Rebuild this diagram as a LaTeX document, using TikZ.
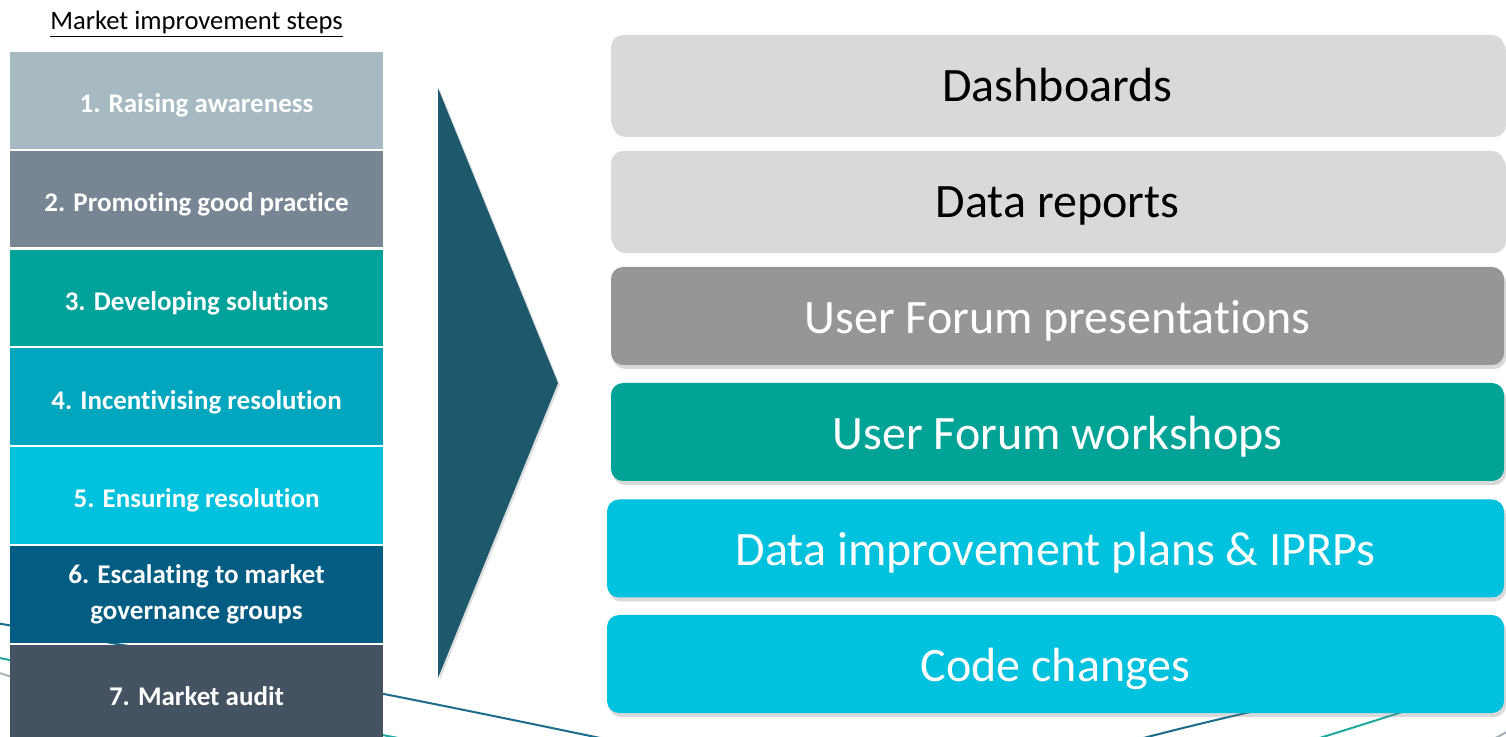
\documentclass[tikz,border=0pt]{standalone}
\usepackage{fontspec}
\setmainfont{Carlito}[Ligatures=NoCommon]
\usepackage{xcolor}
\definecolor{stepone}{HTML}{A7BAC2}
\definecolor{steptwo}{HTML}{788593}
\definecolor{stepthree}{HTML}{00A29A}
\definecolor{stepfour}{HTML}{00A5BE}
\definecolor{stepfive}{HTML}{00C1DE}
\definecolor{stepsix}{HTML}{035C82}
\definecolor{stepseven}{HTML}{445262}
\definecolor{lightbox}{HTML}{D9D9D9}
\definecolor{midbox}{HTML}{969696}
\definecolor{tealbox}{HTML}{00A396}
\definecolor{cyanbox}{HTML}{00C1DE}
\definecolor{arrowdark}{HTML}{1C596C}
\definecolor{swoopdark}{HTML}{1A6C8A}
\definecolor{swoopteal}{HTML}{1FA8A0}
\definecolor{swoopgrey}{HTML}{A9B1B8}
\usetikzlibrary{shadows}

\begin{document}
\begin{tikzpicture}[x=0.5pt, y=-0.5pt,
    stepbox/.style={rectangle, fill=#1, text=white, minimum width=186.5pt, minimum height=48.25pt,
        align=center, font=\fontsize{13.5}{18}\selectfont\bfseries, inner sep=0pt},
    oneline/.style={text height=12.4pt, text depth=0pt},
    toolbox/.style={rectangle, rounded corners=6pt, fill=#1, minimum width=446.5pt, minimum height=49pt,
        font=\fontsize{24}{28}\selectfont, inner sep=0pt, text height=17.5pt, text depth=0pt,
        drop shadow={shadow xshift=1pt, shadow yshift=-2pt, opacity=0.3}},
    swoop/.style={line width=1pt}]

    \clip (0,0) rectangle (1506,737);
    \useasboundingbox (0,0) rectangle (1506,737);

    % background lines
    \draw[swoop, color=swoopdark] (-10,622) .. controls (500,708) and (740,775) .. (860,785)
        .. controls (1000,790) and (1080,746) .. (1320,697);
    \draw[swoop, color=swoopteal] (-10,656) .. controls (500,760) and (700,800) .. (900,810)
        .. controls (1100,810) and (1220,770) .. (1440,700);
    \draw[swoop, color=swoopgrey] (-10,670) .. controls (300,770) and (800,850) .. (1000,850)
        .. controls (1250,850) and (1400,790) .. (1520,725);

    \node[font=\fontsize{13.3}{16}\selectfont] (title) at (196.5,24) {\underline{Market improvement steps}};

    \node[stepbox=stepone, oneline] (s1) at (196.5,100.3) {1. Raising awareness};
    \node[stepbox=steptwo, oneline] (s2) at (196.5,199.1) {2. Promoting good practice};
    \node[stepbox=stepthree, oneline] (s3) at (196.5,297.9) {3. Developing solutions};
    \node[stepbox=stepfour, oneline] (s4) at (196.5,396.7) {4. Incentivising resolution};
    \node[stepbox=stepfive, oneline] (s5) at (196.5,495.5) {5. Ensuring resolution};
    \node[stepbox=stepsix] (s6) at (196.5,594.3) {6. Escalating to market\\governance groups};
    \node[stepbox=stepseven, oneline] (s7) at (196.5,693.1) {7. Market audit};

    \fill[arrowdark, drop shadow={shadow xshift=1pt, shadow yshift=-1pt, opacity=0.25}] (438,88) -- (558,383) -- (438,678) -- cycle;

    \node[toolbox=lightbox] (dash) at (1057.5,84) {Dashboards};
    \node[toolbox=lightbox] (reports) at (1057.5,200) {Data reports};
    \node[toolbox=midbox, text=white] (present) at (1057.5,316) {User Forum presentations};
    \node[toolbox=tealbox, text=white] (workshop) at (1057.5,432) {User Forum workshops};
    \node[toolbox=cyanbox, text=white, minimum width=448.5pt] (plans) at (1055.5,548.5) {Data improvement plans \& IPRPs};
    \node[toolbox=cyanbox, text=white, minimum width=448.5pt] (code) at (1055.5,664) {Code changes};

\end{tikzpicture}
\end{document}
